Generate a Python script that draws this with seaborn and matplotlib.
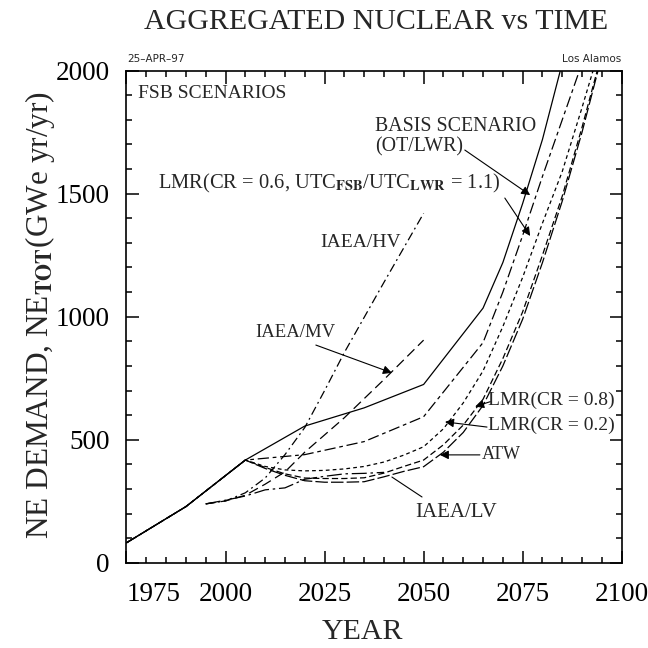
import matplotlib
matplotlib.use("Agg")
import matplotlib.pyplot as plt
from matplotlib.ticker import MultipleLocator
import seaborn as sns
import pandas as pd

sns.set_theme(style="ticks")
plt.rcParams["font.family"] = ["Liberation Serif", "DejaVu Serif"]
plt.rcParams["mathtext.fontset"] = "stix"

# history shared by the FSB scenarios (GWe yr/yr)
hist_years = [1975, 1990, 2005]
hist_ne = [82, 229, 418]

basis_years = hist_years + [2020, 2035, 2050, 2065, 2070, 2075, 2080, 2085]
basis_ne = hist_ne + [556, 630, 725, 1035, 1220, 1460, 1720, 2030]

lmr06_years = hist_years + [2020, 2035, 2050, 2065, 2070, 2075, 2080, 2085, 2090]
lmr06_ne = hist_ne + [440, 493, 594, 895, 1100, 1330, 1570, 1800, 2030]

late_years = [2010, 2015, 2020, 2025, 2030, 2035, 2040, 2045, 2050,
              2055, 2060, 2065, 2070, 2075, 2080, 2085, 2090, 2095]
lmr02_years = hist_years + late_years
lmr02_ne = hist_ne + [392, 378, 374, 376, 382, 392, 410, 438, 472,
                      545, 650, 780, 960, 1160, 1380, 1590, 1850, 2120]
lmr08_years = hist_years + late_years
lmr08_ne = hist_ne + [388, 362, 345, 343, 343, 346, 365, 392, 418,
                      480, 560, 665, 830, 1020, 1250, 1490, 1770, 2070]
atw_years = hist_years + late_years
atw_ne = hist_ne + [384, 356, 334, 328, 328, 330, 350, 372, 391,
                    450, 530, 640, 800, 990, 1220, 1470, 1750, 2060]

hv_years = [1995, 2000, 2005, 2010, 2015, 2020, 2025, 2030, 2040, 2050]
hv_ne = [240, 252, 285, 345, 440, 550, 700, 855, 1140, 1420]
mv_years = [1995, 2000, 2005, 2010, 2015, 2020, 2030, 2040, 2050]
mv_ne = [240, 252, 275, 320, 370, 450, 590, 745, 905]
lv_years = [1995, 2000, 2005, 2010, 2015, 2020, 2025, 2030, 2035, 2040]
lv_ne = [240, 255, 272, 297, 305, 340, 352, 362, 364, 368]

series = {
    "basis": (basis_years, basis_ne),
    "lmr06": (lmr06_years, lmr06_ne),
    "lmr02": (lmr02_years, lmr02_ne),
    "lmr08": (lmr08_years, lmr08_ne),
    "atw": (atw_years, atw_ne),
    "hv": (hv_years, hv_ne),
    "mv": (mv_years, mv_ne),
    "lv": (lv_years, lv_ne),
}
dashes = {
    "basis": "",
    "lmr06": (9, 3, 3, 3),
    "lmr02": (3, 2.5),
    "lmr08": (5, 2.5),
    "atw": (10, 2.5),
    "hv": (7, 3, 1.5, 3),
    "mv": (8, 4),
    "lv": (12, 3, 2, 3),
}

df = pd.concat(
    [pd.DataFrame({"year": y, "ne": v, "scenario": k}) for k, (y, v) in series.items()],
    ignore_index=True,
)

fig = plt.figure(figsize=(6.48, 6.48), dpi=100)
ax = fig.add_axes([0.1952, 0.1312, 0.7642, 0.7600])
sns.lineplot(data=df, x="year", y="ne", style="scenario", dashes=dashes,
             color="black", lw=0.9, estimator=None, sort=False,
             legend=False, ax=ax)

ax.set_xlim(1975, 2100)
ax.set_ylim(0, 2000)
ax.set_xticks([1975, 2000, 2025, 2050, 2075, 2100])
ax.set_yticks([0, 500, 1000, 1500, 2000])
ax.xaxis.set_minor_locator(MultipleLocator(5))
ax.yaxis.set_minor_locator(MultipleLocator(100))
ax.tick_params(which="both", direction="in", top=True, right=True,
               color="black", width=1.1, labelsize=19.5, labelcolor="black")
ax.tick_params(which="major", length=9, pad=12)
ax.tick_params(which="minor", length=4.5)
ax.tick_params(axis="x", which="major", pad=14)
for s in ax.spines.values():
    s.set_linewidth(1.2)
    s.set_color("black")
ax.set_xlabel("")
ax.set_ylabel("")
ax.get_xticklabels()[0].set_horizontalalignment("left")

fig.text(0.581, 0.966, "AGGREGATED NUCLEAR vs TIME", ha="center", va="center", fontsize=21.5)
fig.text(0.56, 0.025, "YEAR", ha="center", va="center", fontsize=21.5)
fig.text(0.062, 0.514, r"NE DEMAND, NE$_{\mathbf{TOT}}$(GWe yr/yr)",
         rotation=90, ha="center", va="center", fontsize=22.5)
fig.text(0.196, 0.902, "25\u2013APR\u201397", family="DejaVu Sans", fontsize=7.5, va="bottom")
fig.text(0.959, 0.902, "Los Alamos", family="DejaVu Sans", fontsize=7.5, va="bottom", ha="right")

ax.text(1978, 1905, "FSB SCENARIOS", fontsize=14, va="center")
ax.text(2037.7, 1772, "BASIS SCENARIO", fontsize=14.3, va="center")
ax.text(2037.7, 1688, "(OT/LWR)", fontsize=14.3, va="center")
ax.text(1983, 1543, r"LMR(CR = 0.6, UTC$_{\mathbf{FSB}}$/UTC$_{\mathbf{LWR}}$ = 1.1)",
        fontsize=14.8, va="center")
ax.text(2023.8, 1300, "IAEA/HV", fontsize=14, va="center")
ax.text(2007.4, 934, "IAEA/MV", fontsize=13.5, va="center")
ax.text(2066.3, 662, "LMR(CR = 0.8)", fontsize=14, va="center")
ax.text(2066.3, 560, "LMR(CR = 0.2)", fontsize=14, va="center")
ax.text(2064.7, 439, "ATW", fontsize=13, va="center")
ax.text(2047.8, 207, "IAEA/LV", fontsize=15, va="center")

arrow = dict(arrowstyle="-|>", color="black", lw=0.8, mutation_scale=13, shrinkA=0, shrinkB=0)
ax.annotate("", xy=(2076.9, 1494), xytext=(2060.4, 1677), arrowprops=arrow)
ax.annotate("", xy=(2076.9, 1328), xytext=(2070.5, 1482), arrowprops=arrow)
ax.annotate("", xy=(2042.0, 772), xytext=(2022.8, 885), arrowprops=arrow)
ax.annotate("", xy=(2063.0, 635), xytext=(2066.8, 655), arrowprops=arrow)
ax.annotate("", xy=(2055.4, 573), xytext=(2066.0, 552), arrowprops=arrow)
ax.annotate("", xy=(2054.1, 439), xytext=(2064.2, 439), arrowprops=arrow)
ax.plot([2049.6, 2042.0], [268, 349], color="black", lw=0.8)

fig.savefig("out.png", dpi=100)
